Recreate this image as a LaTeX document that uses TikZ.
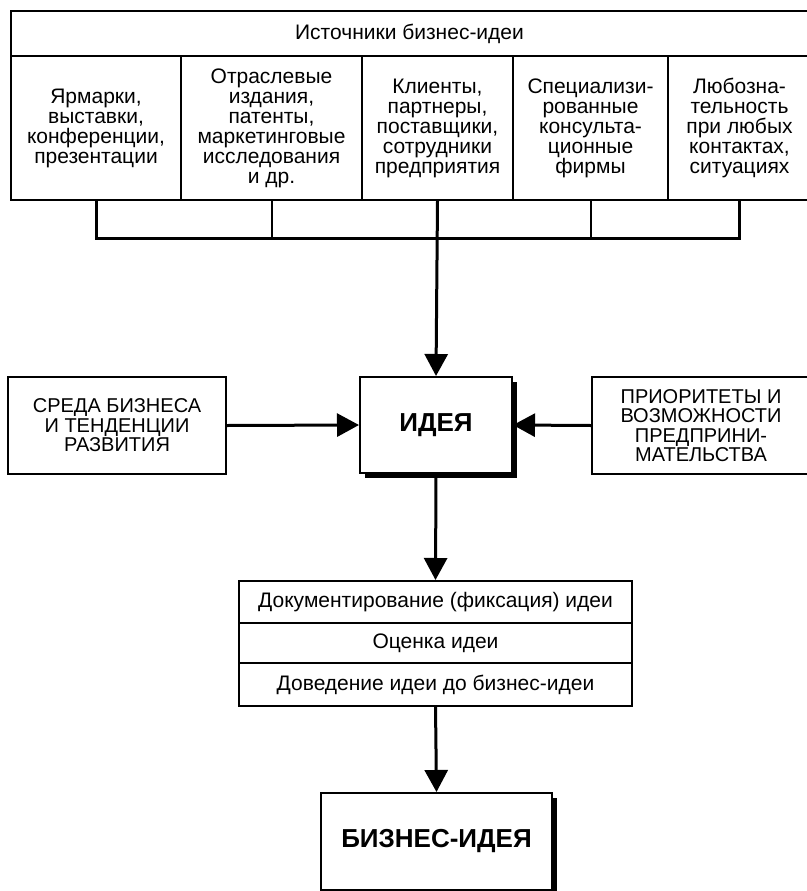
\documentclass[tikz,border=0pt]{standalone}
\usepackage{fontspec}
\setmainfont{Liberation Sans}
\usetikzlibrary{arrows.meta,shadows}
\begin{document}
\begin{tikzpicture}[x=1pt,y=-1pt,
  box/.style={draw,line width=2pt,fill=white,inner sep=0pt,align=center,
    font=\fontsize{21pt}{20pt}\selectfont},
  sidebox/.style={box,font=\fontsize{20pt}{19.5pt}\selectfont},
  bigbox/.style={box,font=\fontsize{26pt}{28pt}\selectfont\bfseries,
    drop shadow={shadow xshift=5pt,shadow yshift=-5pt,fill=black,opacity=1}},
  arr/.style={line width=3pt,-{Triangle[length=22pt,width=23pt]}},
  bracket/.style={line width=3pt},
  drop/.style={line width=2pt}]
\useasboundingbox (0,0) rectangle (806,891);

% sources
\node[box,minimum width=797pt,minimum height=45pt,anchor=north west] (hdr) at (10,10) {Источники бизнес-идеи};
\node[box,minimum width=170pt,minimum height=144pt,anchor=north west] (c1) at (10,55) {Ярмарки,\\выставки,\\конференции,\\презентации};
\node[box,minimum width=181pt,minimum height=144pt,anchor=north west] (c2) at (180,55) {Отраслевые\\издания,\\патенты,\\маркетинговые\\исследования\\и др.};
\node[box,minimum width=151pt,minimum height=144pt,anchor=north west] (c3) at (361,55) {Клиенты,\\партнеры,\\поставщики,\\сотрудники\\предприятия};
\node[box,minimum width=155pt,minimum height=144pt,anchor=north west] (c4) at (512,55) {Специализи-\\рованные\\консульта-\\ционные\\фирмы};
\node[box,minimum width=143pt,minimum height=144pt,anchor=north west] (c5) at (667,55) {Любозна-\\тельность\\при любых\\контактах,\\ситуациях};

% middle
\node[bigbox,minimum width=152pt,minimum height=96pt] (idea) at (436,425) {ИДЕЯ};
\node[sidebox,minimum width=218pt,minimum height=97pt] (env) at (117,425.5) {СРЕДА БИЗНЕСА\\И ТЕНДЕНЦИИ\\РАЗВИТИЯ};
\node[sidebox,minimum width=218pt,minimum height=97pt] (prio) at (701,425.5) {ПРИОРИТЕТЫ И\\ВОЗМОЖНОСТИ\\ПРЕДПРИНИ-\\МАТЕЛЬСТВА};

% steps
\node[box,minimum width=393pt,minimum height=42pt] (d1) at (435.5,602) {Документирование (фиксация) идеи};
\node[box,minimum width=393pt,minimum height=40pt] (d2) at (435.5,643) {Оценка идеи};
\node[box,minimum width=393pt,minimum height=43pt] (d3) at (435.5,684.5) {Доведение идеи до бизнес-идеи};

\node[bigbox,minimum width=231pt,minimum height=97pt] (biz) at (436.5,841.5) {БИЗНЕС-ИДЕЯ};

% bracket
\coordinate (hy) at (0,238);
\coordinate (b1) at (c1.south |- hy);
\coordinate (b2) at (c2.south |- hy);
\coordinate (b4) at (c4.south |- hy);
\coordinate (b5) at (c5.south |- hy);
\draw[bracket] (c1.south) -- (b1) -- (b5) -- (c5.south);
\draw[drop] (c2.south) -- (b2);
\draw[drop] (c4.south) -- (b4);
\draw[arr] (c3.south) -- (idea.north);

\draw[arr] (env.east) -- (idea.west);
\draw[arr] (prio.west) -- (idea.east);
\draw[arr] (idea.south) -- (d1.north);
\draw[arr] (d3.south) -- (biz.north);
\end{tikzpicture}
\end{document}
